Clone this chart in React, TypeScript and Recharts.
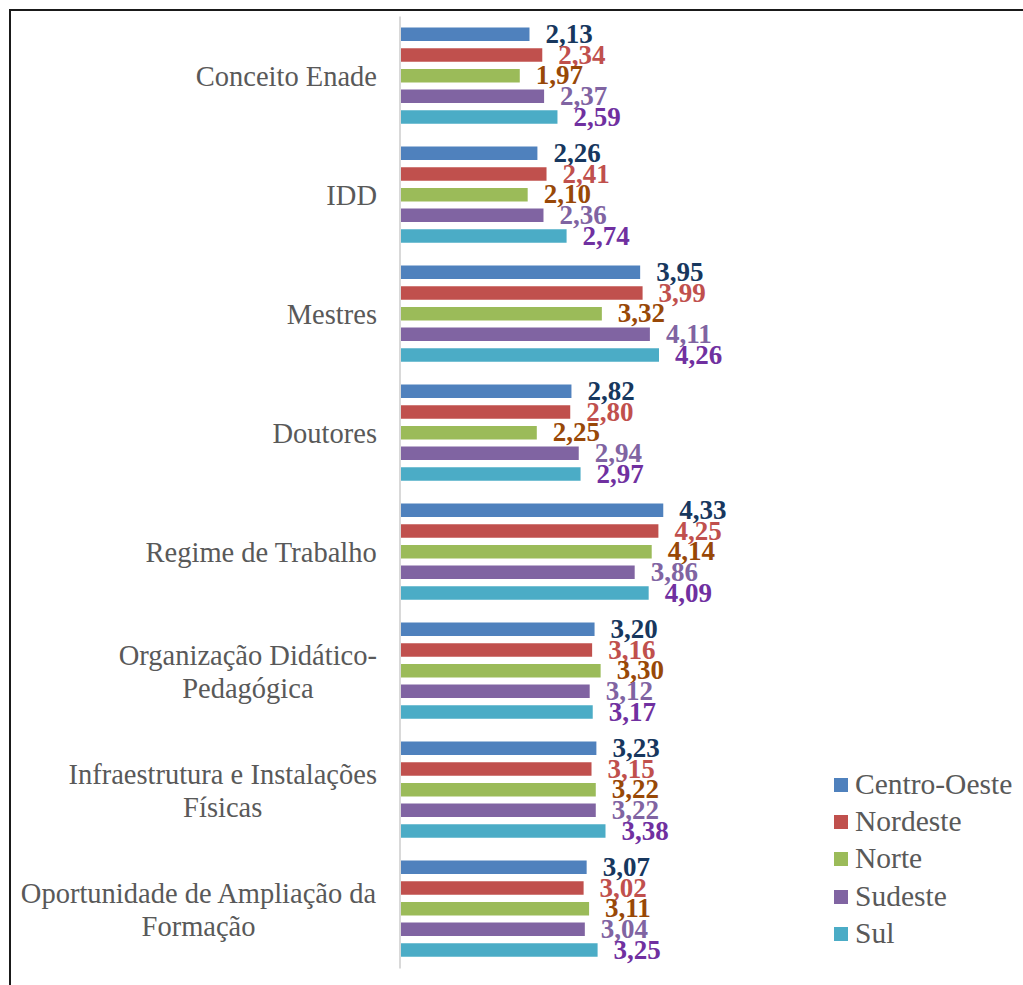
import { BarChart, Bar, XAxis, YAxis, LabelList } from "recharts";

const categories = [
  "Conceito Enade",
  "IDD",
  "Mestres",
  "Doutores",
  "Regime de Trabalho",
  "Organização Didático-Pedagógica",
  "Infraestrutura e Instalações Físicas",
  "Oportunidade de Ampliação da Formação",
];

// how each category label wraps in the original
const tickLines: Record<string, string[]> = {
  "Organização Didático-Pedagógica": ["Organização Didático-", "Pedagógica"],
  "Infraestrutura e Instalações Físicas": ["Infraestrutura e Instalações", "Físicas"],
  "Oportunidade de Ampliação da Formação": ["Oportunidade de Ampliação da", "Formação"],
};

const centroOeste = [2.13, 2.26, 3.95, 2.82, 4.33, 3.2, 3.23, 3.07];
const nordeste = [2.34, 2.41, 3.99, 2.8, 4.25, 3.16, 3.15, 3.02];
const norte = [1.97, 2.1, 3.32, 2.25, 4.14, 3.3, 3.22, 3.11];
const sudeste = [2.37, 2.36, 4.11, 2.94, 3.86, 3.12, 3.22, 3.04];
const sul = [2.59, 2.74, 4.26, 2.97, 4.09, 3.17, 3.38, 3.25];

const series = [
  { key: "Centro-Oeste", values: centroOeste, fill: "#4F81BD", label: "#17375E" },
  { key: "Nordeste", values: nordeste, fill: "#C0504D", label: "#C0504D" },
  { key: "Norte", values: norte, fill: "#9BBB59", label: "#984807" },
  { key: "Sudeste", values: sudeste, fill: "#8064A2", label: "#8064A2" },
  { key: "Sul", values: sul, fill: "#4BACC6", label: "#7030A0" },
];

const data = categories.map((name, i) => {
  const row: Record<string, string | number> = { name };
  series.forEach((s) => (row[s.key] = s.values[i]));
  return row;
});

const SERIF = "'Liberation Serif', 'Times New Roman', serif";
const TICK_SIZE = 28.5;

let ctx: CanvasRenderingContext2D | null = null;
function textWidth(t: string) {
  if (!ctx) ctx = document.createElement("canvas").getContext("2d");
  if (!ctx) return t.length * TICK_SIZE * 0.45;
  ctx.font = `${TICK_SIZE}px ${SERIF}`;
  return ctx.measureText(t).width;
}

function CategoryTick(props: any) {
  const { x, y, payload } = props;
  const lines = tickLines[payload.value] ?? [payload.value];
  const right = x - 15;
  const w = Math.max(...lines.map(textWidth));
  const cx = right - w / 2;
  const lh = 33;
  const y0 = y - ((lines.length - 1) * lh) / 2;
  return (
    <text
      textAnchor="middle"
      fill="#595959"
      fontFamily={SERIF}
      fontSize={TICK_SIZE}
      dominantBaseline="central"
    >
      {lines.map((l, i) => (
        <tspan key={i} x={cx} y={y0 + i * lh}>
          {l}
        </tspan>
      ))}
    </text>
  );
}

const fmt = (v: any) => Number(v).toFixed(2).replace(".", ",");

export default function App() {
  return (
    <div
      style={{
        position: "absolute",
        left: 0,
        top: 0,
        width: 1023,
        height: 985,
        background: "#fff",
        fontFamily: SERIF,
      }}
    >
      <div
        style={{
          position: "absolute",
          left: 9,
          top: 9,
          right: 0,
          bottom: 0,
          borderTop: "2px solid #1a1a1a",
          borderLeft: "2px solid #1a1a1a",
        }}
      />
      <BarChart
        width={1023}
        height={985}
        data={data}
        layout="vertical"
        margin={{ top: 16.5, bottom: 16.5, left: 10, right: 319 }}
        barSize={13.5}
        barGap={7.2}
        style={{ position: "absolute", left: 0, top: 0 }}
      >
        <XAxis type="number" domain={[0, 5]} hide />
        <YAxis
          type="category"
          dataKey="name"
          width={390}
          axisLine={{ stroke: "#d9d9d9", strokeWidth: 2 }}
          tickLine={false}
          tick={<CategoryTick />}
          interval={0}
        />
        {series.map((s) => (
          <Bar key={s.key} dataKey={s.key} fill={s.fill} isAnimationActive={false}>
            <LabelList
              dataKey={s.key}
              position="right"
              offset={16}
              formatter={fmt}
              fill={s.label}
              fontFamily={SERIF}
              fontWeight="bold"
              fontSize={27}
              dy={-1}
            />
          </Bar>
        ))}
      </BarChart>
      <div style={{ position: "absolute", left: 834, top: 766 }}>
        {series.map((s) => (
          <div
            key={s.key}
            style={{ display: "flex", alignItems: "center", height: 37.3 }}
          >
            <span
              style={{ width: 14, height: 14, background: s.fill, marginRight: 7 }}
            />
            <span style={{ fontSize: 29.5, color: "#595959", lineHeight: 1 }}>
              {s.key}
            </span>
          </div>
        ))}
      </div>
    </div>
  );
}
